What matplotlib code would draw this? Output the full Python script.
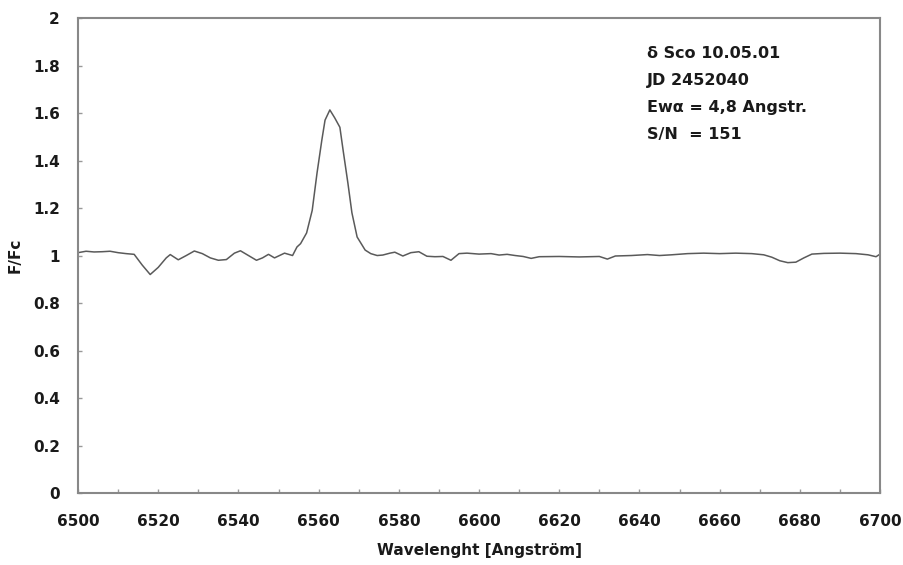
import numpy as np
import matplotlib.pyplot as plt
from matplotlib.ticker import MultipleLocator, FormatStrFormatter

# spectrum
wavelength = [6500, 6502, 6504, 6506, 6508, 6510, 6512, 6514, 6516, 6518,
              6520, 6522, 6523, 6525, 6527, 6529, 6531, 6533, 6535, 6537,
              6539, 6540.5, 6542, 6544.5, 6546, 6547.5, 6549, 6551.5, 6553.5, 6554.6,
              6555.5, 6557, 6558.4, 6559.6, 6560.8, 6561.6, 6562.8, 6564, 6565.3, 6566.1,
              6567.3, 6568.3, 6569.6, 6571.6, 6573, 6574.6, 6576, 6577.8, 6579, 6581,
              6583, 6585, 6587, 6589, 6591, 6593, 6595, 6597, 6600, 6603,
              6605, 6607, 6609, 6611, 6613, 6615, 6620, 6625, 6630, 6632,
              6634, 6638, 6642, 6645, 6648, 6652, 6656, 6660, 6664, 6668,
              6671, 6673, 6675, 6677, 6679, 6681, 6683, 6686, 6690, 6694,
              6697, 6699, 6700]
flux = [1.012, 1.018, 1.015, 1.016, 1.018, 1.012, 1.008, 1.005, 0.96, 0.92,
        0.95, 0.99, 1.004, 0.982, 1.0, 1.019, 1.008, 0.99, 0.98, 0.983,
        1.01, 1.02, 1.005, 0.98, 0.99, 1.005, 0.99, 1.01, 1.0, 1.036,
        1.05, 1.095, 1.19, 1.347, 1.486, 1.57, 1.613, 1.58, 1.54, 1.444,
        1.305, 1.18, 1.078, 1.023, 1.008, 1.0, 1.002, 1.01, 1.014, 0.998,
        1.012, 1.016, 0.997, 0.995, 0.996, 0.98, 1.008, 1.01, 1.006, 1.008,
        1.002, 1.005, 1.0, 0.996, 0.988, 0.995, 0.996, 0.994, 0.996, 0.985,
        0.998, 1.0, 1.004, 1.0, 1.003, 1.008, 1.01, 1.008, 1.01, 1.008,
        1.003, 0.993, 0.978, 0.97, 0.972, 0.99, 1.006, 1.009, 1.01, 1.008,
        1.003, 0.995, 1.006]

info_lines = ["\u03b4 Sco 10.05.01", "JD 2452040",
              "Ew\u03b1 = 4,8 Angstr.", "S/N  = 151"]

plt.rcParams['font.family'] = ['DejaVu Sans']
plt.rcParams['font.weight'] = 'bold'
FS = 11
TXT = '#1a1a1a'

fig = plt.figure(figsize=(9.04, 5.65), dpi=100)
ax = fig.add_axes([0.0863, 0.1274, 0.8872, 0.8407])

ax.plot(wavelength, flux, color='#5a5a5a', linewidth=1.1)

ax.set_xlim(6500, 6700)
ax.set_ylim(0, 2)
ax.xaxis.set_major_locator(MultipleLocator(20))
ax.xaxis.set_minor_locator(MultipleLocator(10))
ax.yaxis.set_major_locator(MultipleLocator(0.2))
ax.yaxis.set_major_formatter(FormatStrFormatter('%g'))
ax.tick_params(axis='both', which='both', direction='in', colors='#999999',
               labelcolor=TXT, labelsize=FS, length=3, width=1)
ax.tick_params(axis='x', pad=15)
ax.tick_params(axis='y', pad=13)
for sp in ax.spines.values():
    sp.set_color('#888888')
    sp.set_linewidth(1.5)

ax.set_xlabel("Wavelenght [Angstr\u00f6m]", fontsize=FS, fontweight='bold',
              color=TXT, va='center')
ax.xaxis.set_label_coords(0.5, -0.122)
ax.set_ylabel("F/Fc", fontsize=FS, fontweight='bold', color=TXT, va='center')
ax.yaxis.set_label_coords(-0.078, 0.5)

for i, s in enumerate(info_lines):
    ax.text(0.7095, 0.926 - i * 0.0568, s, transform=ax.transAxes,
            fontsize=11.5, fontweight='bold', color=TXT, va='center', ha='left')

fig.savefig('out.png', dpi=100)
